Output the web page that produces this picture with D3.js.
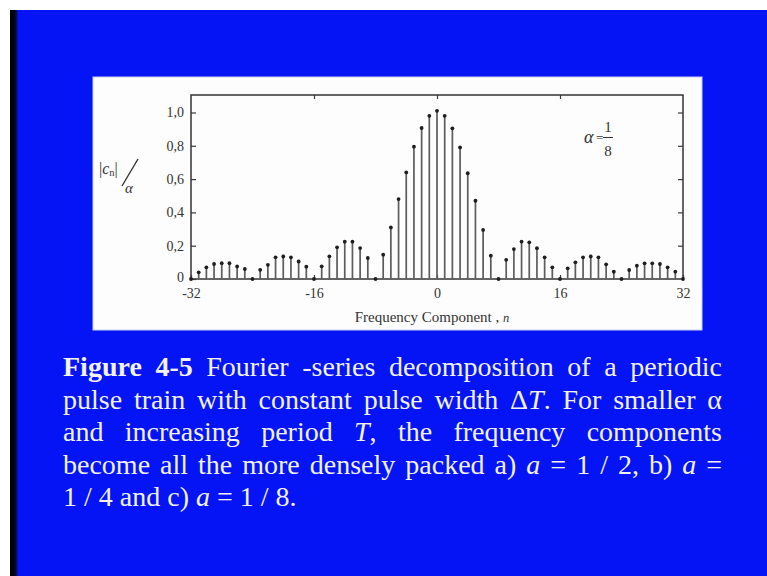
<!DOCTYPE html>
<html>
<head>
<meta charset="utf-8">
<script src="https://cdn.jsdelivr.net/npm/d3@7"></script>
<style>
  body { margin: 0; background: #fff; }
  svg { display: block; }
  .tick text { font-family: "Liberation Serif", "Times New Roman", serif; fill: #333; }
  .tick line { stroke: #3a3a3a; stroke-width: 1.2; }
</style>
</head>
<body>
<script>
// frequency component index n and normalised magnitude |c_n| / alpha (alpha = 1/8)
var freqN = [-32, -31, -30, -29, -28, -27, -26, -25, -24, -23, -22, -21, -20, -19, -18, -17,
             -16, -15, -14, -13, -12, -11, -10, -9, -8, -7, -6, -5, -4, -3, -2, -1,
             0, 1, 2, 3, 4, 5, 6, 7, 8, 9, 10, 11, 12, 13, 14, 15,
             16, 17, 18, 19, 20, 21, 22, 23, 24, 25, 26, 27, 28, 29, 30, 31, 32];
var magnitude = [0, 0.04, 0.07, 0.09, 0.095, 0.095, 0.075, 0.06, 0, 0.055, 0.085, 0.13, 0.135, 0.13, 0.105, 0.074,
                 0, 0.076, 0.136, 0.19, 0.224, 0.224, 0.186, 0.126, 0, 0.146, 0.31, 0.48, 0.64, 0.795, 0.907, 0.98,
                 1.01, 0.98, 0.905, 0.79, 0.635, 0.47, 0.295, 0.14, 0, 0.115, 0.18, 0.225, 0.22, 0.185, 0.13, 0.07,
                 0, 0.064, 0.10, 0.13, 0.135, 0.13, 0.088, 0.044, 0, 0.054, 0.08, 0.094, 0.094, 0.09, 0.07, 0.044, 0];

var xTicks = [-32, -16, 0, 16, 32];
var xTickLabels = ["-32", "-16", "0", "16", "32"];
var yTicks = [0, 0.2, 0.4, 0.6, 0.8, 1.0];
var yTickLabels = ["0", "0,2", "0,4", "0,6", "0,8", "1,0"];

// caption: **bold**, *italic*
var captionLines = [
  "**Figure** **4-5** Fourier -series decomposition of a periodic",
  "pulse train with constant pulse width Δ*T*. For smaller α",
  "and increasing period *T*, the frequency components",
  "become all the more densely packed a) *a* = 1 / 2, b) *a* =",
  "1 / 4 and c) *a* = 1 / 8."
];

var W = 767, H = 576;
var serif = '"Liberation Serif", "Times New Roman", serif';

var svg = d3.select("body").append("svg")
    .attr("width", W)
    .attr("height", H);

// slide background
svg.append("rect").attr("width", W).attr("height", H).attr("fill", "#fff");
svg.append("rect")
    .attr("x", 17).attr("y", 10)
    .attr("width", W - 17).attr("height", H - 10)
    .attr("fill", "#0414f4");

var grad = svg.append("defs").append("linearGradient")
    .attr("id", "edge").attr("x1", "0%").attr("x2", "100%");
grad.append("stop").attr("offset", "0%").attr("stop-color", "#000");
grad.append("stop").attr("offset", "55%").attr("stop-color", "#02030a");
grad.append("stop").attr("offset", "100%").attr("stop-color", "#0a12b0");
svg.append("rect")
    .attr("x", 10).attr("y", 10)
    .attr("width", 8).attr("height", H - 10)
    .attr("fill", "url(#edge)");

// white chart panel
svg.append("rect")
    .attr("x", 93).attr("y", 77)
    .attr("width", 609).attr("height", 253)
    .attr("fill", "#fdfdfd")
    .attr("stroke", "#c9cdee")
    .attr("stroke-width", 1);

var x = d3.scaleLinear().domain([-32, 32]).range([191, 683]);
var y = d3.scaleLinear().domain([0, 1]).range([279, 112.5]);
var yTop = y.invert(95);

var plot = svg.append("g");

// frame
plot.append("rect")
    .attr("x", x(-32)).attr("y", y(yTop))
    .attr("width", x(32) - x(-32)).attr("height", y(0) - y(yTop))
    .attr("fill", "none")
    .attr("stroke", "#333")
    .attr("stroke-width", 1.5);

var leftAxis = plot.append("g")
    .attr("transform", "translate(" + x(-32) + ",0)")
    .call(d3.axisLeft(y).tickValues(yTicks)
        .tickFormat(function(d, i) { return yTickLabels[i]; })
        .tickSizeInner(-5).tickSizeOuter(0).tickPadding(7));

plot.append("g")
    .attr("transform", "translate(" + x(32) + ",0)")
    .call(d3.axisRight(y).tickValues(yTicks.slice(1))
        .tickFormat("").tickSizeInner(-5).tickSizeOuter(0));

var bottomAxis = plot.append("g")
    .attr("transform", "translate(0," + y(0) + ")")
    .call(d3.axisBottom(x).tickValues(xTicks)
        .tickFormat(function(d, i) { return xTickLabels[i]; })
        .tickSizeInner(-4).tickSizeOuter(0).tickPadding(9));

plot.append("g")
    .attr("transform", "translate(0," + y(yTop) + ")")
    .call(d3.axisTop(x).tickValues(xTicks.slice(1, 4))
        .tickFormat("").tickSizeInner(-4).tickSizeOuter(0));

plot.selectAll(".domain").remove();
leftAxis.selectAll("text").attr("font-size", 14);
leftAxis.selectAll(".tick").filter(function(d) { return d === 0; })
    .select("text").attr("dy", "0.2em");
bottomAxis.selectAll("text").attr("font-size", 14);

// stems
var stems = plot.selectAll(".stem")
    .data(freqN)
    .enter().append("g")
        .attr("class", "stem");

stems.append("line")
    .attr("x1", function(d) { return x(d); })
    .attr("x2", function(d) { return x(d); })
    .attr("y1", y(0))
    .attr("y2", function(d, i) { return y(magnitude[i]); })
    .attr("stroke", "#5c5c5c")
    .attr("stroke-width", 1.7);

stems.append("circle")
    .attr("cx", function(d) { return x(d); })
    .attr("cy", function(d, i) { return y(magnitude[i]); })
    .attr("r", 1.9)
    .attr("fill", "#1e1e1e");

// axis titles
svg.append("text")
    .attr("x", 432).attr("y", 322)
    .attr("text-anchor", "middle")
    .attr("font-family", serif)
    .attr("font-size", 15)
    .attr("fill", "#333")
    .call(function(t) {
        t.append("tspan").text("Frequency Component , ");
        t.append("tspan").attr("font-style", "italic").attr("font-size", 12.5).text("n");
    });

var ylab = svg.append("g").attr("font-family", serif).attr("fill", "#333");
ylab.append("text")
    .attr("x", 99).attr("y", 174)
    .attr("font-size", 16)
    .call(function(t) {
        t.append("tspan").text("|");
        t.append("tspan").attr("font-style", "italic").text("c");
        t.append("tspan").attr("font-size", 10.5).attr("dy", 2).text("n");
        t.append("tspan").attr("dy", -2).text("|");
    });
ylab.append("line")
    .attr("x1", 138).attr("y1", 159)
    .attr("x2", 122).attr("y2", 186)
    .attr("stroke", "#333").attr("stroke-width", 1.4);
ylab.append("text")
    .attr("x", 125).attr("y", 193)
    .attr("font-size", 15)
    .attr("font-style", "italic")
    .text("α");

// alpha = 1/8 annotation
var ann = svg.append("g").attr("font-family", serif).attr("fill", "#333");
ann.append("text").attr("x", 584).attr("y", 143)
    .attr("font-size", 18).attr("font-style", "italic").text("α");
ann.append("text").attr("x", 596).attr("y", 142)
    .attr("font-size", 13).text("=");
ann.append("text").attr("x", 608).attr("y", 132)
    .attr("text-anchor", "middle").attr("font-size", 15).text("1");
ann.append("line")
    .attr("x1", 603).attr("x2", 613).attr("y1", 137.5).attr("y2", 137.5)
    .attr("stroke", "#333").attr("stroke-width", 1);
ann.append("text").attr("x", 608).attr("y", 156)
    .attr("text-anchor", "middle").attr("font-size", 15).text("8");

// caption, justified between left and right edges
var capLeft = 63, capRight = 722, capTop = 376, capStep = 32.6;
var caption = svg.append("g")
    .attr("font-family", serif)
    .attr("font-size", 28)
    .attr("fill", "#f2f2f2");

captionLines.forEach(function(line, li) {
    var words = line.split(" ").filter(function(w) { return w.length; });
    var nodes = words.map(function(w) {
        var t = caption.append("text").attr("y", capTop + li * capStep);
        w.match(/\*\*[^*]+\*\*|\*[^*]+\*|[^*]+/g).forEach(function(seg) {
            var s = t.append("tspan");
            if (seg.indexOf("**") === 0) s.attr("font-weight", "bold").text(seg.slice(2, -2));
            else if (seg.indexOf("*") === 0) s.attr("font-style", "italic").text(seg.slice(1, -1));
            else s.text(seg);
        });
        return t;
    });
    var widths = nodes.map(function(t) { return t.node().getComputedTextLength(); });
    var total = d3.sum(widths);
    var gap = li < captionLines.length - 1
        ? (capRight - capLeft - total) / (words.length - 1)
        : 7;
    var cx = capLeft;
    nodes.forEach(function(t, i) {
        t.attr("x", cx);
        cx += widths[i] + gap;
    });
});
</script>
</body>
</html>
